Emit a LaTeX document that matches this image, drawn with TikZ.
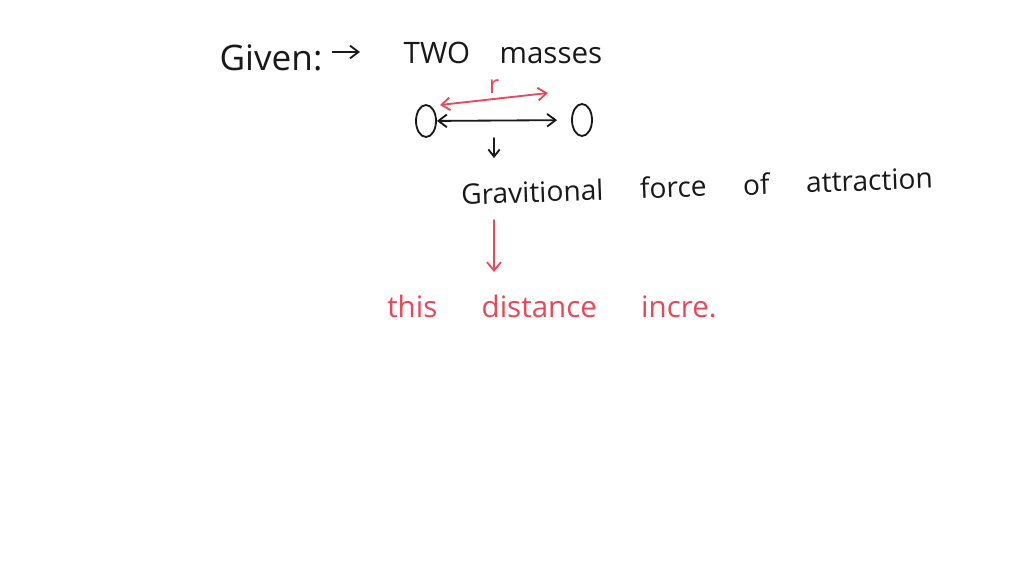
\documentclass[tikz,border=0pt]{standalone}
\usepackage{fontspec}
\setmainfont{Open Sans}
\usetikzlibrary{arrows.meta,shapes.geometric}
\definecolor{penred}{RGB}{232,72,88}
\definecolor{penblack}{RGB}{25,25,25}

\begin{document}
\begin{tikzpicture}[x=0.025cm, y=-0.025cm,
    ink/.style={penblack, line width=1.3pt, line cap=round},
    redink/.style={penred, line width=1.3pt, line cap=round},
    word/.style={inner sep=0pt, text=penblack, font={\fontsize{20}{24}\selectfont\spaceskip=1.3em\relax}},
    mass/.style={draw=penblack, ellipse, line width=1.3pt, minimum width=0.5cm, minimum height=0.8cm, inner sep=0pt}]
    \useasboundingbox[fill=white] (0,0) rectangle (1024,576);
    \draw
        (271, 58) node[word, font={\fontsize{25}{30}\selectfont}](given){Given:}
        (503, 53) node[word, font={\fontsize{21}{25}\selectfont\spaceskip=1em\relax}](masses){TWO masses}
        (426,121) node[mass](massA){}
        (582,120) node[mass](massB){}
        (697,186) node[word, rotate=2](force){Gravitional force of attraction}
        (552,306) node[word, text=penred, font={\fontsize{21}{25}\selectfont\spaceskip=1.5em\relax}](result){this distance incre.}
    ;
    \coordinate (givenEnd) at (360, 52);
    \coordinate (rLeft)  at (440,105);
    \coordinate (rRight) at (548, 93);
    \coordinate (downTop) at (494,138);
    \coordinate (downEnd) at (494,158);
    \coordinate (redTop) at (494,220);
    \coordinate (redEnd) at (494,272);
    \draw [ink, -{Straight Barb[length=6pt, width=9pt]}] (given.east) ++(10,-6) -- (givenEnd);
    \draw [ink, {Straight Barb[length=6pt, width=9pt]}-{Straight Barb[length=6pt, width=9pt]}, shorten >=0.35cm] (massA) -- (massB);
    \draw [redink, {Straight Barb[length=6pt, width=9pt]}-{Straight Barb[length=6pt, width=9pt]}] (rLeft) -- node[above, text=penred, font={\fontsize{18}{20}\selectfont}]{r} (rRight);
    \draw [ink, -{Straight Barb[length=5pt, width=8pt]}] (downTop) -- (downEnd);
    \draw [redink, -{Straight Barb[length=6pt, width=10pt]}] (redTop) -- (redEnd);
\end{tikzpicture}
\end{document}
